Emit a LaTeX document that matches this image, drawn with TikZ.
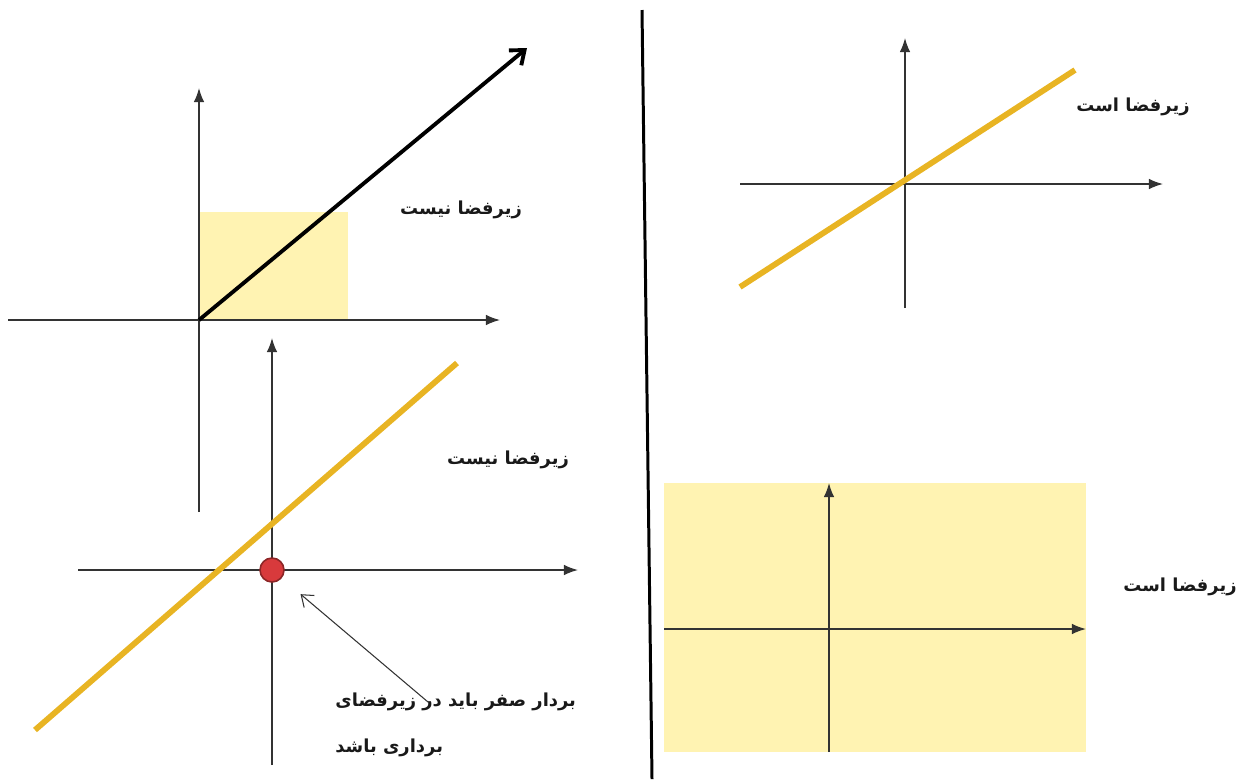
\documentclass[tikz,border=0pt]{standalone}
\usepackage{fontspec}
\usetikzlibrary{arrows.meta}
\newfontfamily\arabicfont[Script=Arabic]{DejaVu Sans}
\TeXXeTstate=1
\definecolor{subYellow}{HTML}{E8B423}
\definecolor{subFill}{HTML}{FFF3B2}
\definecolor{zeroRed}{HTML}{D83A3C}
\definecolor{axisGray}{HTML}{333333}

\tikzset{
  axis/.style={draw=axisGray, line width=0.8pt, -{Latex[length=8pt,width=6pt]}},
  subline/.style={draw=subYellow, line width=3.3pt},
  farsi/.style={font=\arabicfont\bfseries\fontsize{10.2}{16}\selectfont, text=black!90, inner sep=0pt},
}

\begin{document}
\begin{tikzpicture}[x=0.02cm, y=-0.02cm]
  \useasboundingbox (0,0) rectangle (1243,779);

  % Divider
  \draw[line width=1.7pt] (642,10) -- (652,779);

  % Top left: box with a vector
  \fill[subFill] (199,212) rectangle (348,320);
  \draw[axis] (8,320) -- (500,320);
  \draw[axis] (199,512) -- (199,88);
  \coordinate (oA) at (199,320);
  \coordinate (tipA) at (527,48);
  \draw[line width=2.2pt, -{Straight Barb[length=7pt,width=11pt]}] (oA) -- (tipA);
  \node[farsi] (notA) at (461,210) {\beginR زیرفضا نیست\endR};

  % Bottom left: line missing the origin
  \draw[axis] (78,570) -- (578,570);
  \draw[axis] (272,765) -- (272,338);
  \draw[subline] (35,730) -- (457,363);
  \node[circle, inner sep=0pt, minimum size=0.48cm, fill=zeroRed, draw=zeroRed!65!black, line width=0.9pt] (zero) at (272,570) {};
  \node[farsi, align=left, anchor=north west] (note) at (335,693)
    {\beginR بردار صفر باید در زیرفضای\endR\\[10pt]\beginR برداری باشد\endR};
  \node[farsi] (notB) at (508,460) {\beginR زیرفضا نیست\endR};
  \coordinate (ptr) at (428,702);
  \draw[axisGray, line width=0.6pt, -{Straight Barb[length=6pt,width=9pt]}, shorten >=14pt] (ptr) -- (zero);

  % Top right: line through the origin
  \draw[axis] (740,184) -- (1163,184);
  \draw[axis] (905,308) -- (905,38);
  \draw[subline] (740,287) -- (1075,70);
  \node[farsi] (isA) at (1133,107) {\beginR زیرفضا است\endR};

  % Bottom right: whole plane
  \fill[subFill] (664,483) rectangle (1086,752);
  \draw[axis] (664,629) -- (1086,629);
  \draw[axis] (829,752) -- (829,483);
  \node[farsi] (isB) at (1180,587) {\beginR زیرفضا است\endR};
\end{tikzpicture}
\end{document}
